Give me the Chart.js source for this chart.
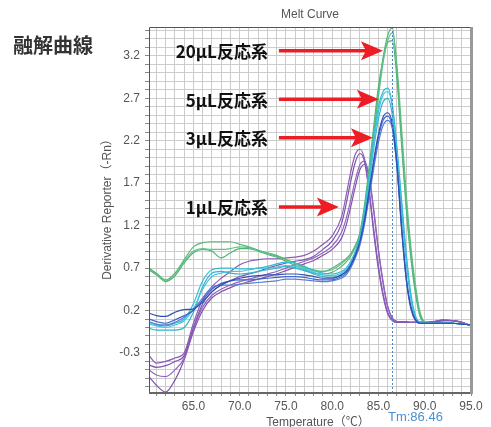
<!DOCTYPE html>
<html>
<head>
<meta charset="utf-8">
<script src="https://cdn.jsdelivr.net/npm/chart.js@4"></script>
<style>
  html, body { margin: 0; padding: 0; background: #fff; }
  canvas { display: block; }
</style>
</head>
<body>
<canvas id="melt" width="491" height="427"></canvas>
<script>
// temperatures (°C) shared by every curve
const temps = [60.2,61,62,63,64,65,66,67,68,69,70,71,72,73,74,75,76,77,78,79,80,
  81,81.5,82,82.5,83,83.5,84,84.5,85,85.5,86,86.5,87,87.5,88,88.5,89,89.5,90,
  91,92,93,94,95];

// 20uL reactions (green)
const g20a = [0.70,0.64,0.56,0.64,0.80,0.95,1.00,1.01,1.01,1.01,0.98,0.95,0.91,0.88,0.85,0.80,0.76,0.71,0.68,0.66,0.70,
  0.77,0.81,0.87,0.97,1.10,1.40,1.82,2.30,2.78,3.18,3.44,3.53,3.02,2.22,1.45,0.88,0.44,0.15,0.06,
  0.05,0.06,0.05,0.05,0.03];
const g20b = [0.69,0.63,0.55,0.62,0.78,0.90,0.93,0.92,0.92,0.93,0.95,0.94,0.91,0.87,0.84,0.80,0.75,0.70,0.67,0.66,0.68,
  0.75,0.80,0.86,0.95,1.08,1.36,1.78,2.26,2.72,3.12,3.38,3.47,3.08,2.35,1.58,0.96,0.50,0.18,0.07,
  0.05,0.05,0.05,0.04,0.03];
const g20c = [0.68,0.62,0.54,0.61,0.76,0.88,0.92,0.90,0.82,0.88,0.93,0.93,0.90,0.86,0.83,0.78,0.73,0.68,0.64,0.63,0.65,
  0.72,0.77,0.84,0.95,1.12,1.45,1.90,2.38,2.84,3.16,3.36,3.38,2.92,2.15,1.40,0.82,0.40,0.13,0.06,
  0.05,0.05,0.05,0.04,0.03];

// 5uL reactions (cyan)
const c5a = [0.06,0.03,0.02,0.05,0.10,0.28,0.55,0.68,0.70,0.70,0.69,0.69,0.70,0.72,0.75,0.77,0.76,0.72,0.67,0.64,0.63,
  0.66,0.70,0.78,0.90,1.08,1.38,1.80,2.25,2.60,2.78,2.82,2.62,2.12,1.50,0.88,0.40,0.14,0.06,0.05,
  0.05,0.05,0.05,0.04,0.03];
const c5b = [0.04,0.02,0.00,0.03,0.08,0.22,0.45,0.60,0.64,0.66,0.66,0.68,0.70,0.70,0.71,0.73,0.72,0.69,0.65,0.62,0.61,
  0.64,0.68,0.76,0.88,1.05,1.34,1.74,2.18,2.54,2.74,2.78,2.60,2.10,1.45,0.82,0.36,0.12,0.06,0.05,
  0.05,0.05,0.05,0.04,0.03];
const c5c = [-0.01,-0.03,-0.03,-0.03,0.00,0.18,0.48,0.64,0.66,0.64,0.63,0.64,0.66,0.68,0.70,0.72,0.70,0.67,0.63,0.60,0.59,
  0.62,0.66,0.74,0.86,1.02,1.30,1.70,2.12,2.46,2.66,2.70,2.50,2.00,1.38,0.78,0.34,0.11,0.05,0.05,
  0.05,0.05,0.05,0.04,0.03];

// 3uL reactions (blue)
const b3a = [0.17,0.14,0.13,0.18,0.21,0.22,0.30,0.42,0.50,0.55,0.58,0.60,0.61,0.62,0.62,0.63,0.63,0.62,0.60,0.58,0.58,
  0.62,0.66,0.74,0.86,1.02,1.28,1.62,1.98,2.28,2.48,2.53,2.40,1.92,1.18,0.58,0.24,0.09,0.05,0.05,
  0.05,0.05,0.05,0.04,0.03];
const b3b = [0.10,0.07,0.05,0.09,0.14,0.20,0.32,0.45,0.52,0.55,0.56,0.56,0.57,0.58,0.59,0.60,0.60,0.59,0.57,0.56,0.56,
  0.60,0.64,0.72,0.84,1.00,1.25,1.58,1.94,2.24,2.44,2.49,2.36,1.88,1.15,0.56,0.22,0.08,0.05,0.05,
  0.05,0.05,0.05,0.04,0.03];
const b3c = [0.07,0.04,0.03,0.06,0.12,0.21,0.35,0.47,0.50,0.50,0.51,0.52,0.53,0.54,0.55,0.57,0.57,0.56,0.55,0.54,0.55,
  0.58,0.62,0.70,0.82,0.97,1.22,1.54,1.88,2.18,2.38,2.44,2.34,1.90,1.20,0.60,0.25,0.09,0.05,0.05,
  0.05,0.05,0.05,0.04,0.03];

// 1uL reactions (purple)
const p1a = [-0.33,-0.42,-0.40,-0.36,-0.30,0.05,0.33,0.48,0.58,0.66,0.74,0.78,0.80,0.81,0.81,0.82,0.83,0.85,0.90,0.98,1.08,
  1.30,1.55,1.83,2.04,2.10,1.98,1.62,1.15,0.72,0.40,0.18,0.09,0.07,0.07,0.07,0.06,0.06,0.06,0.06,
  0.07,0.09,0.08,0.06,0.02];
const p1b = [-0.44,-0.47,-0.45,-0.40,-0.33,0.00,0.28,0.42,0.50,0.55,0.60,0.63,0.66,0.70,0.73,0.76,0.78,0.80,0.84,0.92,1.02,
  1.22,1.45,1.72,1.95,2.05,1.95,1.58,1.10,0.68,0.37,0.16,0.08,0.06,0.06,0.06,0.06,0.06,0.06,0.06,
  0.07,0.08,0.08,0.06,0.02];
const p1c = [-0.50,-0.56,-0.58,-0.50,-0.36,-0.02,0.24,0.38,0.45,0.50,0.54,0.57,0.60,0.63,0.66,0.70,0.74,0.78,0.82,0.88,0.96,
  1.12,1.28,1.50,1.74,1.92,1.96,1.78,1.38,0.92,0.54,0.25,0.11,0.07,0.06,0.06,0.06,0.06,0.06,0.06,
  0.07,0.09,0.08,0.06,0.02];
const p1d = [-0.58,-0.68,-0.76,-0.62,-0.38,-0.05,0.20,0.35,0.42,0.47,0.51,0.54,0.57,0.60,0.63,0.67,0.71,0.75,0.79,0.85,0.92,
  1.05,1.20,1.42,1.66,1.86,1.92,1.76,1.36,0.90,0.52,0.24,0.11,0.07,0.06,0.06,0.06,0.06,0.06,0.06,
  0.06,0.08,0.08,0.06,0.02];

const tmValue = 86.46;
const volumeLabels = ['20μL反応系', '5μL反応系', '3μL反応系', '1μL反応系'];

function curve(values, color) {
  return {
    data: values.map((v, i) => ({ x: temps[i], y: v })),
    borderColor: color,
    borderWidth: 1.2,
    pointRadius: 0,
    fill: false,
    cubicInterpolationMode: 'monotone'
  };
}

const tickFont = { family: '"Liberation Sans", Arial, sans-serif', size: 12 };

// Tm marker, frame, arrows and labels
const decor = {
  id: 'decor',
  afterDatasetsDraw(chart) {
    const { ctx, chartArea: a, scales: { x } } = chart;
    ctx.save();
    const tx = Math.round(x.getPixelForValue(tmValue)) + 0.5;
    ctx.strokeStyle = '#4a86c8';
    ctx.lineWidth = 1;
    ctx.setLineDash([2, 2]);
    ctx.beginPath();
    ctx.moveTo(tx, a.top);
    ctx.lineTo(tx, a.bottom);
    ctx.stroke();
    ctx.setLineDash([]);

    ctx.strokeStyle = '#555';
    ctx.lineWidth = 1;
    ctx.beginPath();
    ctx.moveTo(a.right, a.top + 0.5);
    ctx.lineTo(a.left + 0.5, a.top + 0.5);
    ctx.lineTo(a.left + 0.5, a.bottom);
    ctx.stroke();
    ctx.strokeStyle = '#666';
    ctx.lineWidth = 2;
    ctx.beginPath();
    ctx.moveTo(a.left, a.bottom + 1);
    ctx.lineTo(a.right, a.bottom + 1);
    ctx.stroke();
    ctx.strokeStyle = '#999';
    ctx.lineWidth = 3;
    ctx.beginPath();
    ctx.moveTo(a.right + 0.5, a.top);
    ctx.lineTo(a.right + 0.5, a.bottom + 2);
    ctx.stroke();
    ctx.restore();
  },
  afterDraw(chart) {
    const { ctx, chartArea: a, scales: { x, y } } = chart;
    ctx.save();

    ctx.fillStyle = '#555';
    ctx.font = '12px "Liberation Sans", Arial, "Noto Sans CJK JP", sans-serif';
    ctx.textAlign = 'center';
    ctx.textBaseline = 'middle';
    ctx.fillText('Melt Curve', (a.left + a.right) / 2, 15);
    ctx.fillText('Temperature（℃）', 318, 423);
    ctx.save();
    ctx.translate(108, (a.top + a.bottom) / 2 - 3);
    ctx.rotate(-Math.PI / 2);
    ctx.fillText('Derivative Reporter（-Rn）', 0, 0);
    ctx.restore();

    ctx.fillStyle = '#4a90d0';
    ctx.font = '13px "Liberation Sans", Arial, sans-serif';
    ctx.textAlign = 'left';
    ctx.fillText('Tm:' + tmValue.toFixed(2), x.getPixelForValue(tmValue) - 4, 417);

    ctx.fillStyle = '#333';
    ctx.font = 'bold 20px "Noto Sans CJK JP", sans-serif';
    ctx.fillText('融解曲線', 13, 45);

    // arrow tips sit next to each group of peaks
    const arrows = [[85.48, 3.26], [85.04, 2.69], [84.40, 2.235], [80.72, 1.42]];
    const shaftStart = x.getPixelForValue(74.24);
    const textRight = x.getPixelForValue(73.05);
    arrows.forEach(([t, v], i) => {
      const tip = x.getPixelForValue(t);
      const py = y.getPixelForValue(v);
      ctx.fillStyle = '#111';
      ctx.font = 'bold 17px "Noto Sans CJK JP", sans-serif';
      ctx.textAlign = 'right';
      ctx.fillText(volumeLabels[i], textRight, py + 1);

      ctx.strokeStyle = '#ee1c25';
      ctx.fillStyle = '#ee1c25';
      ctx.lineWidth = 3.5;
      ctx.beginPath();
      ctx.moveTo(shaftStart, py);
      ctx.lineTo(tip - 16, py);
      ctx.stroke();
      ctx.beginPath();
      ctx.moveTo(tip, py);
      ctx.lineTo(tip - 22, py - 9.5);
      ctx.lineTo(tip - 17, py);
      ctx.lineTo(tip - 22, py + 9.5);
      ctx.closePath();
      ctx.fill();
    });
    ctx.restore();
  }
};

new Chart(document.getElementById('melt'), {
  type: 'line',
  data: {
    datasets: [
      curve(b3a, '#2f4fb5'),
      curve(b3b, '#4266c8'),
      curve(b3c, '#5a7fd6'),
      curve(c5a, '#36bcd6'),
      curve(c5b, '#4ac6dc'),
      curve(c5c, '#2eb4cc'),
      curve(g20a, '#58b97c'),
      curve(g20b, '#66c189'),
      curve(g20c, '#4fb374'),
      curve(p1a, '#8a5cb8'),
      curve(p1b, '#7d55b0'),
      curve(p1c, '#9466c0'),
      curve(p1d, '#8352ae')
    ]
  },
  options: {
    responsive: false,
    animation: false,
    devicePixelRatio: 1,
    layout: { padding: { top: 27, right: 20, left: 0, bottom: 0 } },
    plugins: { legend: { display: false }, tooltip: { enabled: false }, title: { display: false } },
    scales: {
      x: {
        type: 'linear',
        min: 60.2,
        max: 95,
        afterBuildTicks: s => {
          s.ticks = [];
          for (let t = 61; t <= 95; t++) s.ticks.push({ value: t });
        },
        afterFit: s => { s.height = 35; },
        ticks: {
          autoSkip: false, maxRotation: 0, padding: 3, color: '#555', font: tickFont,
          callback: v => (v % 5 === 0 ? v.toFixed(1) : '')
        },
        grid: { color: '#cccccc', tickLength: 4, tickColor: '#888' },
        border: { display: false }
      },
      y: {
        min: -0.76,
        max: 3.54,
        afterBuildTicks: s => {
          s.ticks = [];
          for (let k = -7; k <= 35; k++) s.ticks.push({ value: k / 10 });
        },
        afterFit: s => { s.width = 149; },
        ticks: {
          autoSkip: false, padding: 5, color: '#555', font: tickFont,
          callback: v => {
            const k = Math.round(v * 10);
            return (k + 3) % 5 === 0 ? (k / 10).toFixed(1) : '';
          }
        },
        grid: { color: '#cccccc', tickLength: 4, tickColor: '#888' },
        border: { display: false }
      }
    }
  },
  plugins: [decor]
});
</script>
</body>
</html>
